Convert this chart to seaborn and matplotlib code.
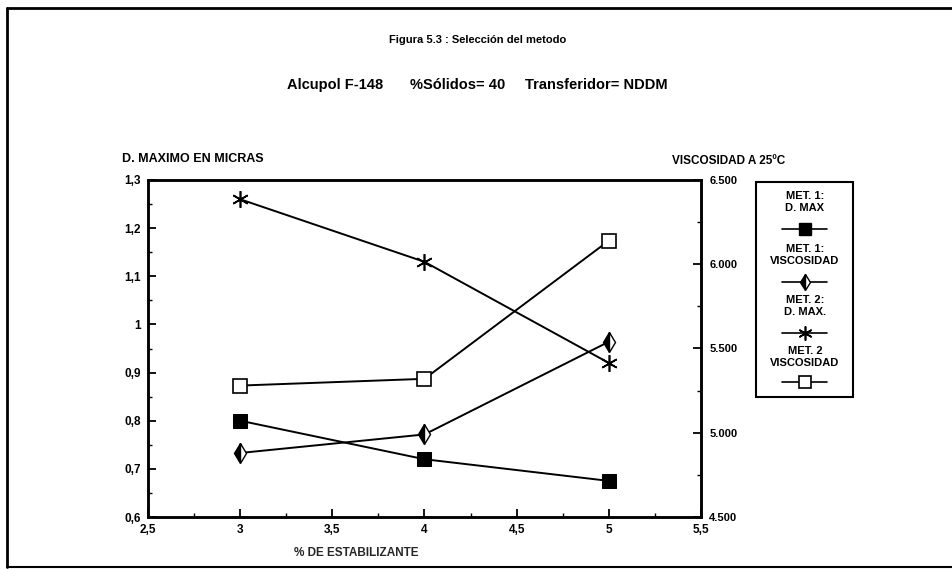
import matplotlib
matplotlib.use("Agg")
import matplotlib.pyplot as plt
import seaborn as sns
import pandas as pd
from matplotlib.ticker import FixedLocator, FuncFormatter
from matplotlib.lines import Line2D
from matplotlib.patches import Rectangle

# ---------------- data ----------------
estabilizante = [3, 4, 5]
met1_dmax = [0.80, 0.72, 0.675]
met2_dmax = [1.26, 1.13, 0.92]
met1_visc = [4880, 4990, 5540]
met2_visc = [5280, 5320, 6140]

x_ticks = [2.5, 3, 3.5, 4, 4.5, 5, 5.5]
x_minor = [2.75, 3.25, 3.75, 4.25, 4.75, 5.25]
left_ticks = [0.6, 0.7, 0.8, 0.9, 1.0, 1.1, 1.2, 1.3]
left_minor = [0.65, 0.75, 0.85, 0.95, 1.05, 1.15, 1.25]
right_ticks = [4500, 5000, 5500, 6000, 6500]
right_minor = [4750, 5250, 5750, 6250]

legend_labels = ["MET. 1:\nD. MAX", "MET. 1:\nVISCOSIDAD", "MET. 2:\nD. MAX.", "MET. 2\nVISCOSIDAD"]

title = "Figura 5.3 : Selección del metodo"
subtitles = ["Alcupol F-148", "%Sólidos= 40", "Transferidor= NDDM"]

df = pd.DataFrame({"x": estabilizante, "m1d": met1_dmax, "m2d": met2_dmax,
                   "m1v": met1_visc, "m2v": met2_visc})

# ---------------- style ----------------
sns.set_theme(style="white")
plt.rcParams['font.family'] = ['Liberation Sans', 'DejaVu Sans']
plt.rcParams['font.weight'] = 'bold'
plt.rcParams['text.color'] = 'black'
plt.rcParams['xtick.color'] = 'black'
plt.rcParams['ytick.color'] = 'black'

W, H = 953, 569
fig = plt.figure(figsize=(W / 100, H / 100), dpi=100)
ax = fig.add_axes([148 / W, 1 - 517 / H, (701 - 148) / W, (517 - 180) / H])
ax2 = ax.twinx()

# series styles
sq_fill = dict(marker='s', markersize=9.5, markerfacecolor='black', markeredgecolor='black')
diam = dict(marker='d', markersize=10, fillstyle='left', markerfacecolor='black',
            markerfacecoloralt='white', markeredgecolor='black', markeredgewidth=1)
star = dict(marker=(6, 2, 0), markersize=12, markeredgecolor='black', markeredgewidth=1.2)
sq_open = dict(marker='s', markersize=10.5, markerfacecolor='white', markeredgecolor='black',
               markeredgewidth=1.2)

sns.lineplot(data=df, x="x", y="m1d", ax=ax, color='black', linewidth=1.4, **sq_fill)
sns.lineplot(data=df, x="x", y="m2d", ax=ax, color='black', linewidth=1.4, **star)
sns.lineplot(data=df, x="x", y="m1v", ax=ax2, color='black', linewidth=1.4, **diam)
sns.lineplot(data=df, x="x", y="m2v", ax=ax2, color='black', linewidth=1.4, **sq_open)

ax.set_xlim(2.5, 5.5)
ax.set_ylim(0.6, 1.3)
ax2.set_ylim(4500, 6500)
ax.set_ylabel("")
ax2.set_ylabel("")


def comma(v, p=None):
    s = f"{v:.2f}".rstrip('0').rstrip('.')
    return s.replace('.', ',')


def thousand(v, p=None):
    return f"{int(round(v)):,}".replace(',', '.')


ax.xaxis.set_major_locator(FixedLocator(x_ticks))
ax.xaxis.set_minor_locator(FixedLocator(x_minor))
ax.yaxis.set_major_locator(FixedLocator(left_ticks))
ax.yaxis.set_minor_locator(FixedLocator(left_minor))
ax2.yaxis.set_major_locator(FixedLocator(right_ticks))
ax2.yaxis.set_minor_locator(FixedLocator(right_minor))
ax.xaxis.set_major_formatter(FuncFormatter(comma))
ax.yaxis.set_major_formatter(FuncFormatter(comma))
ax2.yaxis.set_major_formatter(FuncFormatter(thousand))

ax.tick_params(axis='both', which='major', direction='in', length=6, width=1.3,
               labelsize=8.5, pad=5, bottom=True, left=True, top=False, right=False)
ax.tick_params(axis='both', which='minor', direction='in', length=3, width=1.0,
               bottom=True, left=True, top=False, right=False)
ax2.tick_params(axis='y', which='major', direction='in', length=6, width=1.3,
                labelsize=8, pad=6, right=True, left=False)
ax2.tick_params(axis='y', which='minor', direction='in', length=3, width=1.0, right=True, left=False)

for a in (ax, ax2):
    for s in a.spines.values():
        s.set_color('black')
        s.set_linewidth(1.8)

ax.set_xlabel("% DE ESTABILIZANTE", fontsize=8.5, fontweight='bold')
ax.xaxis.set_label_coords(0.377, -0.09)

# ---------------- texts ----------------
fig.text(478 / W, 1 - 40 / H, title, ha='center', va='center', fontsize=8, fontweight='bold')
for txt, xp in zip(subtitles, [287, 410, 525]):
    fig.text(xp / W, 1 - 85 / H, txt, ha='left', va='center', fontsize=10.5, fontweight='bold')
fig.text(122 / W, 1 - 159 / H, "D. MAXIMO EN MICRAS", ha='left', va='center',
         fontsize=9, fontweight='bold')
fig.text(672 / W, 1 - 161 / H, "VISCOSIDAD A 25ºC", ha='left', va='center',
         fontsize=8.5, fontweight='bold')

# ---------------- legend (manual, handle under label) ----------------
fig.add_artist(Rectangle((756 / W, 1 - 397 / H), 97 / W, 215 / H, transform=fig.transFigure,
                         fill=False, ec='black', lw=1.5))
label_y = [202, 255, 306, 357]
handle_y = [229, 282, 333, 382]
styles = [sq_fill, diam, star, sq_open]
for lab, ly, hy, st in zip(legend_labels, label_y, handle_y, styles):
    fig.text(805 / W, 1 - ly / H, lab, ha='center', va='center', fontsize=8,
             fontweight='bold', linespacing=1.35)
    fig.add_artist(Line2D([782 / W, 827 / W], [1 - hy / H] * 2, transform=fig.transFigure,
                          color='black', lw=1.2))
    st2 = dict(st)
    st2['markersize'] = st['markersize'] * 0.85
    fig.add_artist(Line2D([805 / W], [1 - hy / H], transform=fig.transFigure,
                          color='black', lw=0, **st2))

# ---------------- figure frame ----------------
fig.add_artist(Line2D([7 / W, 1], [1 - 8 / H] * 2, transform=fig.transFigure, color='black', lw=2))
fig.add_artist(Line2D([7 / W] * 2, [1 - 8 / H, 1 - 567 / H], transform=fig.transFigure,
                      color='black', lw=2))
fig.add_artist(Line2D([7 / W, 1], [1 - 567 / H] * 2, transform=fig.transFigure, color='black', lw=1.5))

fig.savefig("out.png", dpi=100)
